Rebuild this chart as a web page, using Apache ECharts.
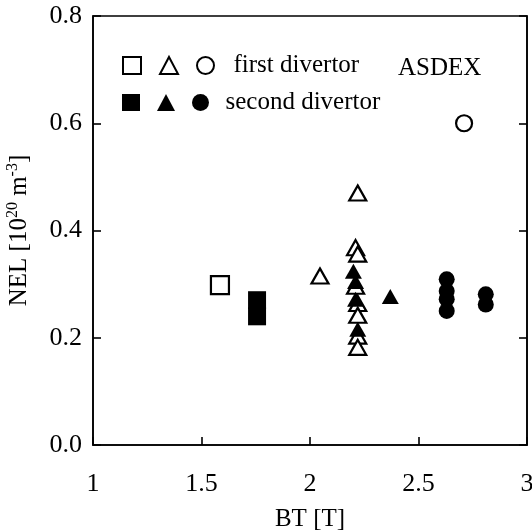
<!DOCTYPE html>
<html>
<head>
<meta charset="utf-8">
<script src="https://cdn.jsdelivr.net/npm/echarts@6/dist/echarts.min.js"></script>
<style>
  html, body { margin: 0; padding: 0; background: #fff; }
  #chart { width: 532px; height: 532px; }
</style>
</head>
<body>
<div id="chart"></div>
<script>
// BT [T], NEL [1e20 m^-3]
const firstSquare = [[1.585, 0.298]]
const secondSquare = [[1.756, 0.27], [1.756, 0.24]]
const firstTriangle = [
  [2.046, 0.315], [2.22, 0.47], [2.21, 0.368], [2.22, 0.356],
  [2.21, 0.296], [2.22, 0.264], [2.22, 0.242], [2.22, 0.203], [2.22, 0.182],
]
const secondTriangle = [[2.2, 0.324], [2.21, 0.305], [2.21, 0.272], [2.22, 0.216], [2.37, 0.277]]
const firstCircle = [[2.71, 0.6]]
const secondCircle = [
  [2.63, 0.309], [2.63, 0.287], [2.63, 0.272], [2.63, 0.25],
  [2.81, 0.281], [2.81, 0.262],
]

const serif = '"Liberation Serif", "Times New Roman", serif'
const open = { color: '#fff', borderColor: '#000', borderWidth: 2.2, opacity: 1 }
const filled = { color: '#000', borderColor: '#000', borderWidth: 0, opacity: 1 }

const scatter = (name, data, symbol, size, style) => ({
  type: 'scatter',
  name,
  data,
  symbol,
  symbolSize: size,
  itemStyle: style,
  emphasis: { disabled: true },
  z: style === open ? 2 : 3,
})

const chart = echarts.init(document.getElementById('chart'))

const axisCommon = {
  axisLine: { show: true, lineStyle: { color: '#000', width: 1.6 } },
  axisTick: { show: true, inside: true, length: 8, lineStyle: { color: '#000', width: 1.6 } },
  splitLine: { show: false },
}

const legendRow = (top, names, label, pad) => ({
  left: 117, top,
  itemWidth: 18, itemHeight: 17, itemGap: 17,
  data: names,
  formatter: (n) => (n === names[2] ? label : ''),
  textStyle: { fontFamily: serif, fontSize: 25, color: '#000', padding: [0, 0, 0, pad] },
  selectedMode: false,
})

chart.setOption({
  animation: false,
  textStyle: { fontFamily: serif },
  title: {
    text: 'ASDEX',
    left: 393,
    top: 51,
    textStyle: { fontFamily: serif, fontSize: 25, fontWeight: 'normal', color: '#000' },
  },
  grid: {
    left: 93, right: 5, top: 16, bottom: 87,
    outerBoundsMode: 'none',
    show: true, borderColor: '#000', borderWidth: 1.6,
  },
  legend: [
    legendRow(48, ['sq1', 'tri1', 'ci1'], 'first divertor', 14),
    legendRow(85, ['sq2', 'tri2', 'ci2'], 'second divertor', 11),
  ],
  xAxis: {
    type: 'value', min: 1, max: 3, interval: 0.5,
    ...axisCommon,
    axisLabel: { margin: 26, fontFamily: serif, fontSize: 26, color: '#000' },
    name: 'BT [T]',
    nameLocation: 'middle',
    nameGap: 62,
    nameTextStyle: { fontFamily: serif, fontSize: 25, color: '#000' },
  },
  yAxis: [
    {
      type: 'value', min: 0, max: 0.8, interval: 0.2,
      ...axisCommon,
      axisLabel: {
        margin: 11, fontFamily: serif, fontSize: 26, color: '#000',
        formatter: (v) => v.toFixed(1),
      },
      name: 'NEL [10{sup|20} m{sup|-3}]',
      nameLocation: 'middle',
      nameGap: 60,
      nameTextStyle: {
        fontFamily: serif, fontSize: 25, color: '#000',
        rich: {
          sup: { fontFamily: serif, fontSize: 16, color: '#000', verticalAlign: 'bottom', padding: [0, 0, 12, 0] },
        },
      },
    },
    {
      type: 'value', min: 0, max: 0.8, interval: 0.2, position: 'right',
      ...axisCommon,
      axisLabel: { show: false },
    },
  ],
  series: [
    scatter('sq1', firstSquare, 'rect', 18, open),
    scatter('tri1', firstTriangle, 'triangle', [17, 15], open),
    scatter('ci1', firstCircle, 'circle', 16, open),
    scatter('sq2', secondSquare, 'rect', 18, filled),
    scatter('tri2', secondTriangle, 'triangle', [17, 15], filled),
    scatter('ci2', secondCircle, 'circle', 16, filled),
  ],
})
</script>
</body>
</html>
